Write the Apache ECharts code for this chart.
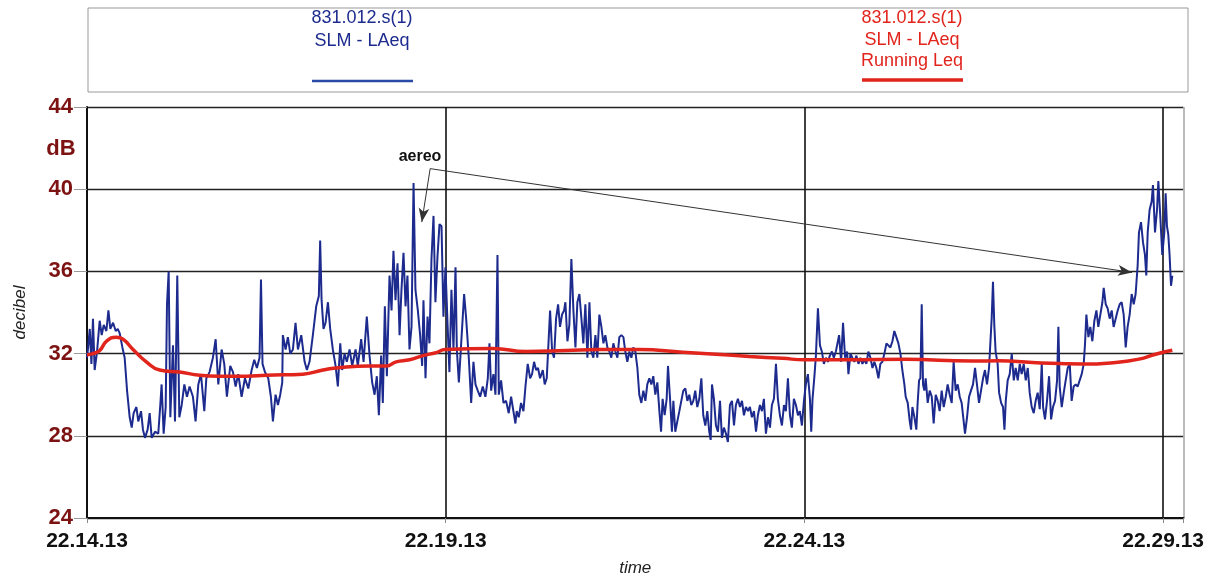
<!DOCTYPE html>
<html>
<head>
<meta charset="utf-8">
<title>831.012.s(1) SLM - LAeq</title>
<script src="https://cdn.jsdelivr.net/npm/echarts@6/dist/echarts.min.js"></script>
<style>
  html, body { margin: 0; padding: 0; background: #fff; }
  #chart { width: 1207px; height: 582px; }
</style>
</head>
<body>
<div id="chart"></div>
<script>
// clock of the first sample, x values are seconds after it
const startClock = "22.14.13";
const xTickSeconds = [0, 300, 600, 900];
const yTicks = [24, 28, 32, 36, 40, 44];

const laeqTimes = [
  0, 1.1, 2.3, 3.7, 5.0, 6.4, 8.4, 10.6, 12.3, 14.0,
  16.2, 17.9, 19.5, 21.8, 24.0, 25.7, 27.3, 29.6, 31.5, 33.5,
  35.7, 37.4, 39.0, 41.3, 42.9, 45.2, 46.8, 48.5, 50.7, 52.4,
  54.1, 56.9, 59.6, 61.3, 62.4, 64.1, 65.8, 66.9, 68.3, 69.7,
  71.9, 73.6, 75.5, 77.2, 79.2, 81.4, 83.6, 85.8, 88.6, 90.8,
  93.1, 95.3, 98.1, 99.8, 102.5, 105.3, 107.6, 109.8, 112.6, 114.8,
  117.0, 119.8, 122.1, 124.3, 126.5, 129.3, 132.1, 134.9, 137.7, 139.9,
  142.1, 144.3, 145.5, 146.8, 148.8, 151.6, 153.8,
  155.5, 157.7, 159.7, 161.6, 163.3, 163.8, 166.1, 168.0, 170.0, 172.2,
  174.4, 176.4, 179.2, 182.0, 183.9, 186.1, 188.9, 191.7, 193.9, 195.0,
  196.2, 197.8, 199.5, 201.5, 203.4, 205.6, 207.9, 209.8, 211.8, 213.4,
  215.4, 217.3, 219.6, 221.8, 224.6, 226.5, 229.3, 231.3, 234.0, 236.3,
  238.5, 240.5, 242.4, 244.1, 246.0, 247.4, 249.1, 250.8, 253.0, 254.7,
  256.3, 258.0, 259.7, 261.4, 263.0, 264.7, 266.4, 268.0, 269.7, 271.4,
  273.1, 274.7, 276.7, 278.6, 280.3, 281.4, 283.1, 284.8, 286.4, 288.1,
  289.8, 291.4, 293.1, 294.8, 296.5, 298.1, 299.8, 301.5, 303.1, 304.8,
  306.5, 308.2, 309.3, 311.0,
  315.4, 317.1, 319.3, 321.3, 323.2, 324.9, 326.8, 328.8, 331.0, 333.2,
  335.2, 336.6, 338.0, 339.9, 341.6, 343.3, 344.4, 346.3, 348.3, 350.5,
  352.7, 354.7, 356.6, 358.3, 359.4, 361.1, 363.0, 365.0, 366.7, 368.6,
  370.6, 372.2, 373.9, 375.6, 377.2, 378.9, 381.2, 382.8, 384.5, 386.2,
  387.3, 389.0, 390.6, 392.3, 394.0, 395.6, 397.3, 399.0, 400.1, 401.8,
  403.4, 405.1, 406.8, 408.5, 410.1, 411.8, 413.5, 415.1, 416.8, 418.5,
  420.2, 421.8, 423.5, 425.2, 426.8, 428.5, 430.2, 431.9, 433.5, 435.2,
  436.9, 438.5, 440.2, 441.9, 443.6, 445.2, 446.9, 448.6, 450.2, 451.9,
  453.6, 455.3, 456.9, 458.6, 460.3, 461.9, 463.6, 465.3, 467.0, 468.6,
  470.3, 472.0, 473.6, 475.3, 477.0, 478.7, 480.1, 481.4, 483.1, 484.8,
  485.9, 487.6, 489.2, 490.4, 492.0, 493.7, 495.4, 497.0, 498.7, 500.4,
  502.1, 503.7, 505.4, 507.1, 508.7, 510.4, 512.1, 513.8, 515.4, 517.1,
  518.8, 520.4, 521.6, 522.7, 524.3, 526.0, 527.7, 529.4, 531.0, 532.7,
  534.4, 536.0, 537.7, 539.4, 541.1, 542.7, 544.4, 546.1, 547.8, 549.4,
  551.1, 552.8, 554.4, 556.1, 557.8, 559.5, 561.1, 562.8, 564.5, 566.1,
  567.8, 569.5, 571.2, 572.8, 574.5, 576.2, 577.8, 579.5, 581.2, 582.9,
  584.5, 586.2, 587.9, 589.5, 591.2, 592.9, 594.6, 596.2, 597.9, 599.6,
  601.2, 602.9, 604.6, 605.7, 606.8, 608.5, 609.6, 611.3, 613.0, 614.6,
  616.3, 618.0, 619.6, 621.3, 623.0, 624.6, 626.3, 628.0,
  629.0, 630.7, 632.3, 634.0, 635.7, 636.8, 638.5, 640.1, 641.8, 643.5,
  645.2, 646.8, 648.5, 650.2, 651.8, 653.5, 655.2, 656.9, 658.5, 660.2,
  661.9, 663.5, 665.2, 666.9, 668.6, 670.2, 671.9, 673.6, 675.2, 676.9,
  678.6, 680.3, 681.9, 683.6, 684.7, 686.4, 688.1, 689.2, 690.3, 692.0,
  693.6, 694.7, 695.9, 697.0, 698.1, 699.2, 700.3, 701.4, 703.1, 704.8,
  706.5, 708.1, 709.8, 711.5, 713.1, 714.8, 716.5, 718.2, 719.8, 721.5,
  723.2, 724.8, 726.5, 728.2, 729.9, 731.5, 733.2, 734.3, 736.0, 737.7,
  739.3, 741.0, 742.7, 744.3, 746.0, 747.7, 749.4, 751.0, 752.7, 754.4,
  755.5, 756.6, 757.7, 758.8, 759.9, 761.6,
  762.8, 764.5, 766.1, 767.3, 768.4, 770.0, 771.7, 773.4, 775.1, 776.7,
  778.4, 780.1, 781.7, 783.4, 785.1, 786.8, 788.4, 790.1, 791.8, 793.4,
  795.1, 796.8, 798.5, 799.6, 801.2, 802.9, 804.6, 806.3, 807.9, 809.6,
  811.3, 812.4, 813.5, 815.2, 816.9, 818.5, 820.2, 821.9, 823.5, 825.2,
  826.9, 828.6, 830.2, 831.9, 833.6, 834.7, 835.8, 837.5, 839.1, 840.8,
  842.5, 844.2, 845.8, 847.5, 849.2, 850.3, 852.0, 853.6, 855.3, 857.0,
  858.6, 860.3, 862.0, 863.7, 865.3, 867.0, 868.7, 870.3, 872.0, 873.7,
  875.4, 877.0, 878.7, 879.8, 881.5, 883.2, 884.8, 885.9, 887.1, 888.7,
  890.4, 891.5, 893.2, 894.9, 896.0, 897.6, 899.3, 901.0, 902.1, 903.2,
  904.3, 905.4, 906.6, 907.7,
];

const laeqLevels = [
  31.8, 32.4, 33.2, 31.5, 33.7, 31.2, 32.1, 33.6, 32.9, 33.4,
  33.1, 34.1, 33.2, 33.5, 33.1, 33.2, 33.0, 32.3, 31.8, 30.2,
  28.9, 28.4, 29.1, 29.4, 28.7, 29.2, 28.3, 27.9, 28.3, 29.1,
  27.9, 28.2, 28.1, 29.5, 30.5, 28.1, 29.4, 34.4, 36.0, 28.9,
  32.4, 28.7, 35.8, 28.9, 29.5, 30.5, 29.9, 30.4, 29.9, 28.7,
  30.5, 31.0, 29.2, 30.8, 31.1, 31.8, 32.7, 30.5, 32.2, 31.5,
  29.9, 31.4, 31.1, 30.4, 31.0, 29.9, 30.8, 30.3, 31.2, 31.7,
  31.3, 31.8, 35.6, 31.5, 31.1, 30.8, 29.9,
  28.7, 30.0, 29.5, 30.0, 30.6, 32.9, 32.2, 32.8, 32.0, 32.2,
  33.5, 32.2, 32.9, 31.6, 31.2, 31.6, 32.9, 34.3, 34.8, 37.5,
  34.6, 33.2, 33.5, 34.5, 33.2, 32.2, 31.4, 30.4, 32.5, 31.2,
  32.0, 31.6, 32.2, 31.4, 32.2, 31.4, 32.7, 31.6, 33.8, 31.9,
  30.6, 30.0, 30.9, 29.0, 31.9, 29.6, 34.3, 30.9, 35.8, 34.1,
  37.0, 34.6, 36.4, 32.9, 35.1, 36.9, 34.3, 35.8, 32.2, 33.3,
  40.3, 35.1, 34.1, 32.9, 31.4, 34.6, 30.8, 33.8, 32.5, 36.6,
  38.7, 34.5, 36.7, 38.3, 38.2, 33.8, 36.2, 33.5, 31.1, 35.1,
  32.2, 36.2, 32.2, 30.6,
  34.9, 33.7, 31.8, 29.6, 31.6, 30.5, 30.2, 29.9, 30.4, 29.9,
  30.8, 32.5, 30.2, 31.0, 30.0, 36.8, 30.0, 30.7, 29.6, 29.7,
  29.1, 29.9, 29.2, 28.6, 29.2, 28.9, 29.6, 29.2, 30.4, 31.5,
  30.8, 31.0, 31.6, 31.2, 31.3, 30.8, 31.2, 30.5, 30.8, 32.8,
  34.1, 32.1, 31.8, 33.7, 34.4, 33.3, 33.9, 34.1, 34.5, 32.6,
  33.4, 36.6, 34.1, 32.3, 34.5, 34.9, 33.7, 32.5, 34.4, 31.8,
  34.5, 32.1, 31.8, 32.9, 31.8, 33.9, 33.3, 32.5, 32.9, 32.3,
  32.1, 31.8, 32.5, 32.1, 31.8, 32.8, 32.9, 32.8, 32.1, 31.6,
  32.1, 31.8, 32.3, 32.1, 31.3, 30.0, 29.6, 30.2, 29.7, 30.5,
  30.8, 30.5, 30.9, 30.0, 30.6, 29.2, 28.2, 29.8, 29.0, 29.8,
  31.4, 29.8, 28.2, 29.7, 28.2, 28.7, 29.2, 29.2, 30.2, 30.3,
  29.7, 30.0, 29.5, 29.7, 30.2, 29.4, 29.8, 30.8, 29.0, 28.5,
  29.2, 28.2, 27.8, 30.5, 29.8, 28.5, 28.2, 29.7, 27.9, 28.4,
  28.1, 27.7, 29.5, 29.7, 28.5, 29.5, 29.8, 29.4, 29.7, 29.0,
  29.4, 29.2, 29.4, 28.9, 29.2, 28.2, 29.0, 29.5, 29.2, 29.8,
  28.1, 28.9, 28.4, 29.5, 29.8, 31.5, 29.8, 29.0, 28.5, 29.5,
  29.2, 30.8, 29.0, 28.4, 29.8, 29.5, 29.0, 29.2, 28.5, 29.7,
  30.5, 31.0, 29.8, 28.2, 29.8, 31.0, 31.9, 34.2, 32.4, 32.1,
  31.5, 31.8, 31.6, 31.9, 32.1, 31.8, 32.1, 32.6,
  32.9, 31.6, 33.5, 31.8, 32.1, 31.0, 32.0, 31.8, 31.6, 31.9,
  31.5, 31.8, 31.5, 31.7, 31.5, 32.1, 31.8, 31.3, 31.6, 31.3,
  30.8, 31.5, 31.6, 32.0, 32.5, 32.5, 32.3, 32.6, 33.1, 32.8,
  32.5, 32.0, 31.2, 30.5, 29.9, 29.6, 28.7, 28.3, 29.4, 28.9,
  28.3, 29.6, 30.7, 30.8, 34.4, 30.5, 30.2, 30.8, 29.6, 30.2,
  29.9, 28.6, 30.0, 29.7, 29.2, 30.2, 29.4, 29.9, 30.5, 30.0,
  29.6, 31.6, 30.2, 30.5, 29.9, 29.6, 28.7, 28.1, 28.9, 29.9,
  30.2, 30.5, 31.3, 30.5, 29.6, 30.2, 30.8, 31.2, 30.5, 31.3,
  32.5, 33.7, 35.5, 33.4, 32.1, 31.5,
  30.1, 29.6, 29.4, 28.3, 29.7, 30.7, 31.0, 32.0, 30.7, 31.3,
  30.7, 31.5, 31.0, 31.5, 30.7, 31.3, 30.1, 29.4, 29.1, 29.7,
  30.1, 29.3, 31.5, 29.4, 28.8, 29.7, 30.9, 28.8, 29.4, 29.7,
  30.7, 33.3, 30.4, 29.4, 30.1, 30.7, 31.3, 31.5, 29.7, 30.4,
  30.5, 30.4, 30.7, 31.0, 31.5, 32.5, 33.9, 32.8, 33.3, 32.6,
  33.6, 34.1, 33.3, 33.9, 34.5, 35.2, 34.4, 34.2, 33.7, 34.1,
  33.3, 33.7, 34.1, 34.4, 34.5, 33.9, 32.3, 33.3, 33.9, 34.9,
  34.4, 34.9, 36.3, 37.9, 38.4, 37.4, 36.8, 35.8, 37.9, 39.0,
  39.4, 40.2, 37.9, 39.0, 40.4, 38.7, 36.8, 37.9, 39.8, 38.2,
  37.8, 36.8, 35.3, 35.8,
];

const runningTimes = [
  0, 5.0, 10.6, 16.2, 24.5, 30.1, 38.5, 49.6, 60.8, 77.5,
  94.2, 110.9, 133.2, 149.9, 180.6, 197.3, 208.4, 236.3, 250.2, 258.6,
  269.7, 280.9, 292.0, 299.5, 339.4, 367.2, 400.7, 428.5, 461.9, 498.2,
  526.0, 553.9, 581.7, 599.9, 636.9, 684.7, 740.4, 762.8, 790.7, 832.5,
  860.3, 879.8, 893.7, 907.7,
];

const runningLevels = [
  31.95, 32.0, 32.15, 32.6, 32.8, 32.7, 32.2, 31.6, 31.2, 31.1,
  30.95, 30.9, 30.9, 30.95, 31.0, 31.2, 31.3, 31.4, 31.4, 31.6,
  31.7, 31.9, 32.05, 32.2, 32.25, 32.1, 32.15, 32.2, 32.2, 32.07,
  31.97, 31.86, 31.77, 31.7, 31.7, 31.72, 31.64, 31.65, 31.57, 31.49,
  31.57, 31.73, 31.97, 32.16,
];

// arrow from the "aereo" note to the two overflights
const aereoFrom = [287, 41.0];
const aereoTargets = [[280, 38.4], [874, 35.95]];

const blue = "#1d2b8e";
const red = "#e1241c";
const font = '"Liberation Sans", Arial, sans-serif';

function clockLabel(offset) {
  const [h, m, s] = startClock.split(".").map(Number);
  const total = h * 3600 + m * 60 + s + Math.round(offset);
  const pad = (n) => String(n).padStart(2, "0");
  return `${pad(Math.floor(total / 3600) % 24)}.${pad(Math.floor(total / 60) % 60)}.${pad(total % 60)}`;
}

const zip = (xs, ys) => xs.map((x, i) => [x, ys[i]]);

function legendText(x, y, text, color) {
  return {
    type: "text",
    x,
    y,
    style: {
      text,
      fill: color,
      font: `18px ${font}`,
      align: "center",
      textAlign: "center",
      verticalAlign: "middle",
      textVerticalAlign: "middle",
    },
  };
}

const chart = echarts.init(document.getElementById("chart"));

chart.setOption({
  animation: false,
  backgroundColor: "#fff",
  textStyle: { fontFamily: font },
  grid: { left: 87, right: 22, top: 107, bottom: 60 },
  xAxis: {
    type: "value",
    min: 0,
    max: 917,
    interval: 300,
    name: "time",
    nameLocation: "middle",
    nameGap: 42,
    nameTextStyle: { fontStyle: "italic", fontSize: 17, color: "#222" },
    axisLine: { lineStyle: { color: "#111", width: 2 } },
    axisTick: { show: true, length: 5, lineStyle: { color: "#888" } },
    axisLabel: {
      formatter: (v) => (xTickSeconds.includes(v) ? clockLabel(v) : ""),
      fontWeight: "bold",
      fontSize: 21,
      color: "#111",
      margin: 13,
    },
    splitLine: {
      show: true,
      lineStyle: { color: ["#111", "#111", "#111", "#111", "#aaa"], width: 1.6 },
    },
  },
  yAxis: {
    type: "value",
    min: yTicks[0],
    max: yTicks[yTicks.length - 1],
    interval: 4,
    name: "decibel",
    nameLocation: "middle",
    nameGap: 58,
    nameTextStyle: { fontStyle: "italic", fontSize: 17, color: "#222" },
    axisLine: { show: true, lineStyle: { color: "#111", width: 2 } },
    axisTick: { show: true, length: 13, lineStyle: { color: "#999" } },
    axisLabel: { fontWeight: "bold", fontSize: 22, color: "#7d1212", margin: 14 },
    splitLine: { show: true, lineStyle: { color: "#222", width: 1.4 } },
  },
  graphic: [
    {
      type: "rect",
      shape: { x: 88, y: 8, width: 1100, height: 84 },
      style: { fill: "none", stroke: "#999", lineWidth: 1 },
    },
    legendText(362, 18, "831.012.s(1)", blue),
    legendText(362, 41, "SLM - LAeq", blue),
    {
      type: "line",
      shape: { x1: 312, y1: 81, x2: 413, y2: 81 },
      style: { stroke: "#2a4aa8", lineWidth: 2.5 },
    },
    legendText(912, 18, "831.012.s(1)", red),
    legendText(912, 40, "SLM - LAeq", red),
    legendText(912, 61, "Running Leq", red),
    {
      type: "line",
      shape: { x1: 862, y1: 80, x2: 963, y2: 80 },
      style: { stroke: red, lineWidth: 3.5 },
    },
    {
      type: "text",
      x: 61,
      y: 149,
      style: {
        text: "dB",
        fill: "#7d1212",
        font: `bold 22px ${font}`,
        align: "center",
        textAlign: "center",
        verticalAlign: "middle",
        textVerticalAlign: "middle",
      },
    },
    {
      type: "text",
      x: 420,
      y: 157,
      style: {
        text: "aereo",
        fill: "#111",
        font: `bold 16px ${font}`,
        align: "center",
        textAlign: "center",
        verticalAlign: "middle",
        textVerticalAlign: "middle",
      },
    },
  ],
  series: [
    {
      name: "SLM - LAeq",
      type: "line",
      data: zip(laeqTimes, laeqLevels),
      showSymbol: false,
      lineStyle: { color: blue, width: 2 },
      z: 3,
      markLine: {
        silent: true,
        symbol: ["none", "arrow"],
        symbolSize: [8, 14],
        label: { show: false },
        lineStyle: { color: "#333", width: 1, type: "solid" },
        data: aereoTargets.map((to) => [{ coord: aereoFrom }, { coord: to }]),
      },
    },
    {
      name: "Running Leq",
      type: "line",
      data: zip(runningTimes, runningLevels),
      smooth: true,
      showSymbol: false,
      lineStyle: { color: red, width: 3.5 },
      z: 4,
    },
  ],
});
</script>
</body>
</html>
